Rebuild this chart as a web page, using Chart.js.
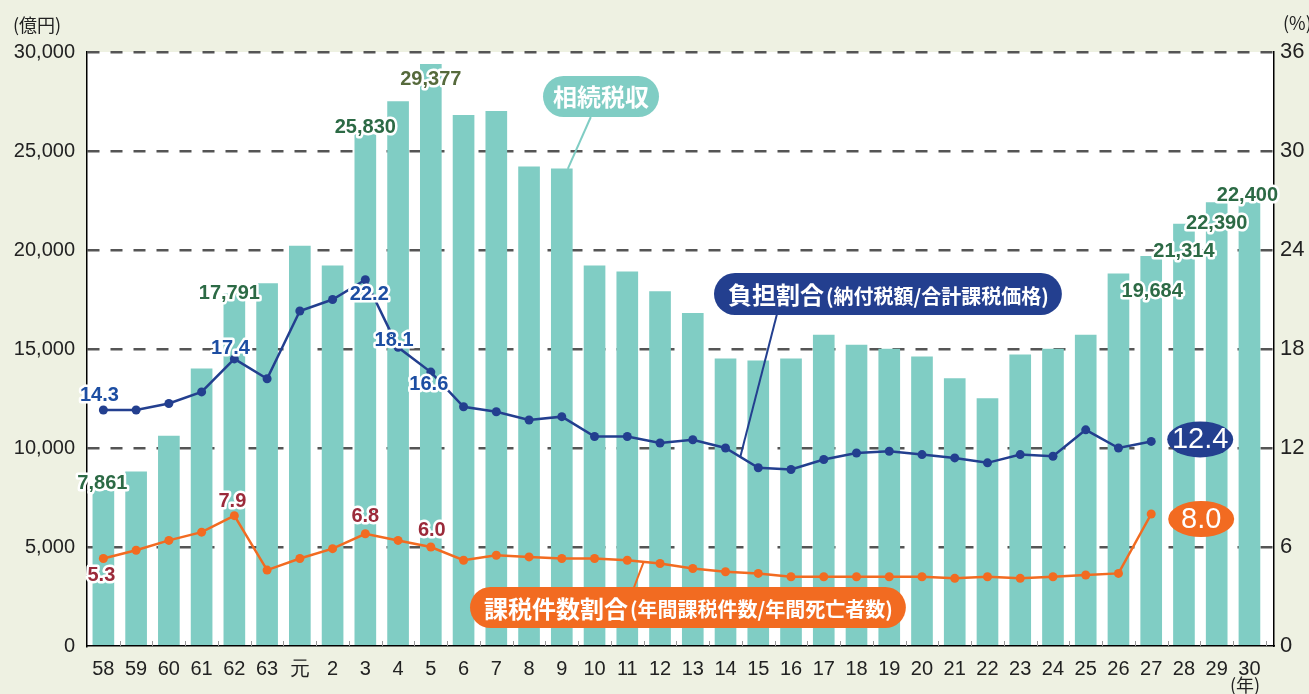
<!DOCTYPE html>
<html lang="ja">
<head>
  <meta charset="UTF-8">
  <title>相続税収の推移</title>
  <style>
    html, body { margin: 0; padding: 0; background: #eef1e2; }
    #wrap { width: 1309px; height: 694px; position: relative; }
  </style>
</head>
<body>
  <div id="wrap"><canvas id="chart"></canvas></div>

  <script src="https://cdn.jsdelivr.net/npm/chart.js"></script>
  <script>
    // 年（昭和58年〜平成30年）
    const categories = ['58','59','60','61','62','63','元','2','3','4','5','6','7','8','9','10','11','12','13','14','15','16','17','18','19','20','21','22','23','24','25','26','27','28','29','30'];
    // 相続税収（億円）
    const revenue = [7861, 8800, 10600, 14000, 17791, 18300, 20200, 19200, 25830, 27500, 29377, 26800, 27000, 24200, 24100, 19200, 18900, 17900, 16800, 14500, 14400, 14500, 15700, 15200, 15000, 14600, 13500, 12500, 14700, 15000, 15700, 18800, 19684, 21314, 22390, 22400];
    // 負担割合（%）
    const burdenRatio = [14.3, 14.3, 14.7, 15.4, 17.4, 16.2, 20.3, 21.0, 22.2, 18.1, 16.6, 14.5, 14.2, 13.7, 13.9, 12.7, 12.7, 12.3, 12.5, 12.0, 10.8, 10.7, 11.3, 11.7, 11.8, 11.6, 11.4, 11.1, 11.6, 11.5, 13.1, 12.0, 12.4, null, null, null];
    // 課税件数割合（%）
    const taxableRatio = [5.3, 5.8, 6.4, 6.9, 7.9, 4.6, 5.3, 5.9, 6.8, 6.4, 6.0, 5.2, 5.5, 5.4, 5.3, 5.3, 5.2, 5.0, 4.7, 4.5, 4.4, 4.2, 4.2, 4.2, 4.2, 4.2, 4.1, 4.2, 4.1, 4.2, 4.3, 4.4, 8.0, null, null, null];

    const leftTicks = [0, 5000, 10000, 15000, 20000, 25000, 30000];
    const rightTicks = [0, 6, 12, 18, 24, 30, 36];

    // 値ラベルを付ける位置
    const revenueLabelIdx = [0, 4, 8, 10, 32, 33, 34, 35];
    const burdenLabelIdx = [0, 4, 8, 9, 10];
    const taxableLabelIdx = [0, 4, 8, 10];
    const lastIdx = 32;

    // ラベルのずらし量（px）
    const revenueLabelOffset = [[-1,-7],[-5,0],[0,-7],[0,15],[1,35],[0,28],[0,21],[-2,-7]];
    const burdenLabelOffset = [[-4,-15],[-4,-10],[4,15],[-4,-7],[-2,12]];
    const taxableLabelOffset = [[-2,17],[-2,-14],[0,-17],[1,-17]];

    const TEAL = '#80cdc4';
    const NAVY = '#233f8f';
    const ORANGE = '#f26b21';
    const NUM_FONT = 'Arial, "Liberation Sans", sans-serif';
    const JP_FONT = '"Noto Sans CJK JP", sans-serif';

    function drawLabel(ctx, text, x, y, color) {
      ctx.font = 'bold 20px ' + NUM_FONT;
      ctx.textAlign = 'center';
      ctx.textBaseline = 'middle';
      ctx.lineJoin = 'round';
      ctx.lineWidth = 5;
      ctx.strokeStyle = '#fff';
      ctx.strokeText(text, x, y);
      ctx.fillStyle = color;
      ctx.fillText(text, x, y);
    }

    function pill(ctx, x, y, w, h, color) {
      ctx.beginPath();
      ctx.roundRect(x, y, w, h, h / 2);
      ctx.fillStyle = color;
      ctx.fill();
    }

    function leader(ctx, x1, y1, x2, y2, color) {
      ctx.beginPath();
      ctx.moveTo(x1, y1);
      ctx.lineTo(x2, y2);
      ctx.lineWidth = 2;
      ctx.strokeStyle = color;
      ctx.stroke();
    }

    // 2段のフォントを持つ吹き出し
    function textPill(ctx, left, top, h, big, small, color) {
      ctx.font = 'bold 24px ' + JP_FONT;
      const w1 = ctx.measureText(big).width;
      ctx.font = 'bold 20px ' + JP_FONT;
      const w2 = ctx.measureText(small).width;
      const w = 14 + w1 + 2 + w2 + 13;
      pill(ctx, left, top, w, h, color);
      ctx.fillStyle = '#fff';
      ctx.textAlign = 'left';
      ctx.textBaseline = 'middle';
      ctx.font = 'bold 24px ' + JP_FONT;
      ctx.fillText(big, left + 14, top + h / 2 + 1);
      ctx.font = 'bold 20px ' + JP_FONT;
      ctx.fillText(small, left + 16 + w1, top + h / 2 + 2);
    }

    const backgroundPlugin = {
      id: 'bg',
      beforeDraw(chart) {
        const { ctx, chartArea: a } = chart;
        ctx.save();
        ctx.fillStyle = '#eef1e2';
        ctx.fillRect(0, 0, chart.width, chart.height);
        ctx.fillStyle = '#fff';
        ctx.fillRect(a.left, a.top, a.right - a.left, a.bottom - a.top);
        ctx.restore();
      }
    };

    const decorPlugin = {
      id: 'decor',
      afterDatasetsDraw(chart) {
        const { ctx, chartArea: a } = chart;
        const xs = chart.scales.x;
        ctx.save();
        // 目盛（年の区切り）
        ctx.strokeStyle = '#999';
        ctx.lineWidth = 1;
        for (let i = 0; i < categories.length; i++) {
          const px = Math.round(xs.getPixelForValue(i + 0.5)) + 0.5;
          ctx.beginPath();
          ctx.moveTo(px, a.bottom - 5);
          ctx.lineTo(px, a.bottom);
          ctx.stroke();
        }

        const bars = chart.getDatasetMeta(2).data;
        const blue = chart.getDatasetMeta(0).data;
        const orange = chart.getDatasetMeta(1).data;

        revenueLabelIdx.forEach((i, k) => {
          const el = bars[i];
          const col = i === 10 ? '#566a3c' : '#2c6a45';
          drawLabel(ctx, revenue[i].toLocaleString('en-US'), el.x + revenueLabelOffset[k][0], el.y + revenueLabelOffset[k][1], col);
        });
        burdenLabelIdx.forEach((i, k) => {
          const el = blue[i];
          drawLabel(ctx, burdenRatio[i].toFixed(1), el.x + burdenLabelOffset[k][0], el.y + burdenLabelOffset[k][1], '#1d4ea2');
        });
        taxableLabelIdx.forEach((i, k) => {
          const el = orange[i];
          drawLabel(ctx, taxableRatio[i].toFixed(1), el.x + taxableLabelOffset[k][0], el.y + taxableLabelOffset[k][1], '#9b2a3a');
        });

        // 最新値のバッジ
        const badges = [
          [blue[lastIdx], burdenRatio[lastIdx], NAVY, 49, -2],
          [orange[lastIdx], taxableRatio[lastIdx], ORANGE, 50, 5]
        ];
        badges.forEach(([el, v, col, dx, dy]) => {
          ctx.beginPath();
          ctx.ellipse(el.x + dx, el.y + dy, 33, 18, 0, 0, Math.PI * 2);
          ctx.fillStyle = col;
          ctx.fill();
          ctx.fillStyle = '#fff';
          ctx.font = '29px ' + NUM_FONT;
          ctx.textAlign = 'center';
          ctx.textBaseline = 'middle';
          ctx.fillText(v.toFixed(1), el.x + dx, el.y + dy + 1);
        });

        // 相続税収 吹き出し
        const b9 = bars[14];
        leader(ctx, b9.x + 29, 117, b9.x + 6, b9.y, TEAL);
        pill(ctx, 543, 76, 116, 41, TEAL);
        ctx.fillStyle = '#fff';
        ctx.font = 'bold 24px ' + JP_FONT;
        ctx.textAlign = 'center';
        ctx.textBaseline = 'middle';
        ctx.fillText('相続税収', 601, 97);

        // 負担割合 吹き出し
        const p1 = blue[19], p2 = blue[20];
        leader(ctx, 777, 314, p1.x + (p2.x - p1.x) * 0.45, p1.y + (p2.y - p1.y) * 0.45, NAVY);
        textPill(ctx, 714, 273, 42, '負担割合', '(納付税額/合計課税価格)', NAVY);

        // 課税件数割合 吹き出し
        const q1 = orange[16], q2 = orange[17];
        leader(ctx, 633, 590, q1.x + (q2.x - q1.x) * 0.5, q1.y + (q2.y - q1.y) * 0.5, ORANGE);
        textPill(ctx, 470, 587, 41, '課税件数割合', '(年間課税件数/年間死亡者数)', ORANGE);

        // 単位
        ctx.fillStyle = '#222';
        ctx.font = '18px ' + JP_FONT;
        ctx.textBaseline = 'middle';
        ctx.textAlign = 'left';
        ctx.fillText('(億円)', 13, 25);
        ctx.fillText('(%)', 1283, 23);
        ctx.fillText('(年)', 1230, 685);
        ctx.restore();
      }
    };

    const toPoints = arr => arr.map((v, i) => ({ x: i, y: v }));

    new Chart(document.getElementById('chart'), {
      data: {
        datasets: [
          {
            type: 'line',
            label: '負担割合',
            data: toPoints(burdenRatio),
            yAxisID: 'y1',
            borderColor: NAVY,
            backgroundColor: NAVY,
            borderWidth: 2.5,
            pointRadius: 4.5,
            pointBorderWidth: 0,
            tension: 0,
            spanGaps: false,
            order: 0
          },
          {
            type: 'line',
            label: '課税件数割合',
            data: toPoints(taxableRatio),
            yAxisID: 'y1',
            borderColor: ORANGE,
            backgroundColor: ORANGE,
            borderWidth: 2.5,
            pointRadius: 4.5,
            pointBorderWidth: 0,
            tension: 0,
            spanGaps: false,
            order: 1
          },
          {
            type: 'bar',
            label: '相続税収',
            data: toPoints(revenue),
            yAxisID: 'y',
            backgroundColor: TEAL,
            barThickness: 21,
            order: 2
          }
        ]
      },
      options: {
        responsive: true,
        maintainAspectRatio: false,
        animation: false,
        layout: { padding: { top: 52, left: 0, right: 0, bottom: 0 } },
        plugins: { legend: { display: false }, tooltip: { enabled: false } },
        scales: {
          x: {
            type: 'linear',
            offset: false,
            min: -0.5,
            max: 35.75,
            afterBuildTicks: s => { s.ticks = categories.map((c, i) => ({ value: i })); },
            afterFit: s => { s.height = 48; },
            ticks: {
              autoSkip: false,
              maxRotation: 0,
              padding: 3,
              color: '#222',
              font: { size: 20, family: NUM_FONT },
              callback: v => categories[v]
            },
            grid: { display: false },
            border: { color: '#000', width: 1.5 }
          },
          y: {
            position: 'left',
            min: 0,
            max: 30000,
            afterBuildTicks: s => { s.ticks = leftTicks.map(v => ({ value: v })); },
            afterFit: s => { s.width = 87; },
            ticks: {
              padding: 12,
              color: '#222',
              font: { size: 20, family: NUM_FONT },
              callback: v => v.toLocaleString('en-US')
            },
            grid: {
              drawTicks: false,
              lineWidth: 2.5,
              color: c => (c.tick && c.tick.value === 0) ? 'rgba(0,0,0,0)' : '#555'
            },
            border: { color: '#000', width: 1.5, dash: [12, 11] }
          },
          y1: {
            position: 'right',
            min: 0,
            max: 36,
            afterBuildTicks: s => { s.ticks = rightTicks.map(v => ({ value: v })); },
            afterFit: s => { s.width = 35; },
            ticks: {
              padding: 6,
              color: '#222',
              font: { size: 22, family: NUM_FONT }
            },
            grid: { display: false, drawTicks: false },
            border: { color: '#000', width: 1.5 }
          }
        }
      },
      plugins: [backgroundPlugin, decorPlugin]
    });
  </script>
</body>
</html>
